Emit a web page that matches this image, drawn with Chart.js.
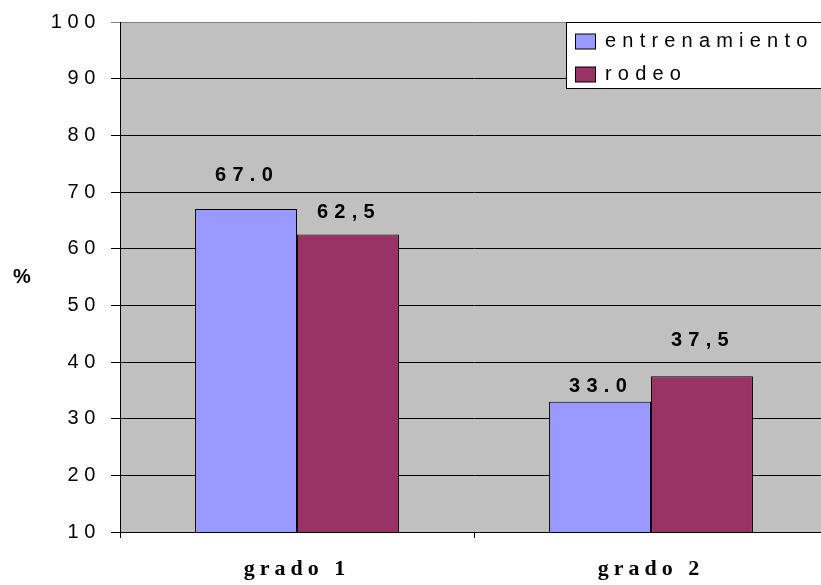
<!DOCTYPE html>
<html>
<head>
<meta charset="utf-8">
<script src="https://cdn.jsdelivr.net/npm/chart.js@4/dist/chart.umd.min.js"></script>
<style>
  html, body { margin: 0; padding: 0; overflow: hidden; background: #fff; }
  canvas { display: block; }
</style>
</head>
<body>
<canvas id="chart" width="840" height="585"></canvas>
<script>
// Categories and series
const categories = ['grado 1', 'grado 2'];
const seriesNames = ['entrenamiento', 'rodeo'];
const entrenamiento = [67.0, 33.0];
const rodeo = [62.5, 37.5];
// Value labels as printed above each bar
const entrenamientoLabels = ['67.0', '33.0'];
const rodeoLabels = ['62,5', '37,5'];
// Value axis
const yMin = 10;
const yMax = 100;
const yStep = 10;
const yTitle = '%';

const SANS = '"Liberation Sans", Arial, sans-serif';
const SERIF = '"Liberation Serif", "Times New Roman", serif';

// Grey plot area background
const plotBackground = {
  id: 'plotBackground',
  beforeDraw(chart) {
    const { ctx, chartArea: a } = chart;
    ctx.save();
    ctx.fillStyle = '#C0C0C0';
    ctx.fillRect(a.left, a.top, a.right - a.left, a.bottom - a.top);
    ctx.restore();
  }
};

// Wider letter spacing for the axis tick labels
const spacedTicks = {
  id: 'spacedTicks',
  afterUpdate(chart) {
    const spacing = { x: '5px', y: '5.6px' };
    Object.keys(spacing).forEach(id => {
      const s = chart.scales[id];
      if (!s || s._spacedLabels) return;
      const orig = s.drawLabels;
      s.drawLabels = function (area) {
        const c = this.ctx;
        c.save();
        c.letterSpacing = spacing[id];
        orig.call(this, area);
        c.restore();
      };
      s._spacedLabels = true;
    });
  }
};

// Value labels above the bars
const valueLabels = {
  id: 'valueLabels',
  afterDatasetsDraw(chart, args, opts) {
    const { ctx } = chart;
    ctx.save();
    ctx.letterSpacing = '6.3px';
    ctx.font = 'bold 20px ' + SANS;
    ctx.fillStyle = '#000';
    ctx.textAlign = 'center';
    ctx.textBaseline = 'middle';
    chart.data.datasets.forEach((ds, di) => {
      chart.getDatasetMeta(di).data.forEach((bar, i) => {
        ctx.fillText(ds.valueLabels[i], bar.x + 1, bar.y - opts.lift[di][i]);
      });
    });
    ctx.restore();
  }
};

// Boxed legend in the top-right corner plus the "%" axis title
const boxLegend = {
  id: 'boxLegend',
  afterDraw(chart) {
    const { ctx, chartArea: a } = chart;
    ctx.save();
    const bx = 566.5, by = a.top + 0.5, bw = 280, bh = 66;
    ctx.fillStyle = '#fff';
    ctx.fillRect(bx, by, bw, bh);
    ctx.strokeStyle = '#000';
    ctx.lineWidth = 1;
    ctx.strokeRect(bx, by, bw, bh);
    ctx.font = '20px ' + SANS;
    ctx.letterSpacing = '6.2px';
    ctx.textBaseline = 'middle';
    ctx.textAlign = 'left';
    chart.data.datasets.forEach((ds, i) => {
      const cy = by + 19 + i * 33;
      ctx.fillStyle = ds.backgroundColor;
      ctx.fillRect(575.5, cy - 7.5, 20, 15);
      ctx.strokeRect(575.5, cy - 7.5, 20, 15);
      ctx.fillStyle = '#000';
      ctx.fillText(ds.label, 605, cy);
    });
    ctx.letterSpacing = '0px';
    ctx.font = 'bold 20px ' + SANS;
    ctx.textAlign = 'center';
    ctx.fillText(yTitle, 22, 277);
    ctx.restore();
  }
};

new Chart(document.getElementById('chart'), {
  type: 'bar',
  data: {
    labels: categories,
    datasets: [
      {
        label: seriesNames[0],
        data: entrenamiento,
        valueLabels: entrenamientoLabels,
        backgroundColor: '#9999FF',
        borderColor: '#000',
        borderWidth: 1
      },
      {
        label: seriesNames[1],
        data: rodeo,
        valueLabels: rodeoLabels,
        backgroundColor: '#993366',
        borderColor: '#000',
        borderWidth: 1
      }
    ]
  },
  options: {
    responsive: false,
    animation: false,
    devicePixelRatio: 1,
    layout: { padding: { left: 0, top: 20, right: 12, bottom: 0 } },
    datasets: {
      bar: { categoryPercentage: 0.576, barPercentage: 1.0 }
    },
    scales: {
      x: {
        offset: true,
        grid: {
          offset: true,
          drawOnChartArea: false,
          drawTicks: true,
          tickLength: 6,
          color: '#000'
        },
        border: { color: '#000', width: 1 },
        ticks: {
          color: '#000',
          padding: 18,
          font: { family: SERIF, size: 22, weight: 'bold' }
        },
        afterFit(s) { s.height = 53; }
      },
      y: {
        min: yMin,
        max: yMax,
        ticks: {
          stepSize: yStep,
          color: '#000',
          padding: 10,
          font: { family: SANS, size: 20 }
        },
        grid: {
          color: c => (c.tick && c.tick.value === yMax ? '#808080' : '#000'),
          tickLength: 9,
          lineWidth: 1
        },
        border: { color: '#000', width: 1 },
        afterFit(s) { s.width = 120; }
      }
    },
    plugins: {
      legend: { display: false },
      tooltip: { enabled: false },
      valueLabels: { lift: [[34, 15], [22, 36]] }
    }
  },
  plugins: [plotBackground, spacedTicks, valueLabels, boxLegend]
});
</script>
</body>
</html>
